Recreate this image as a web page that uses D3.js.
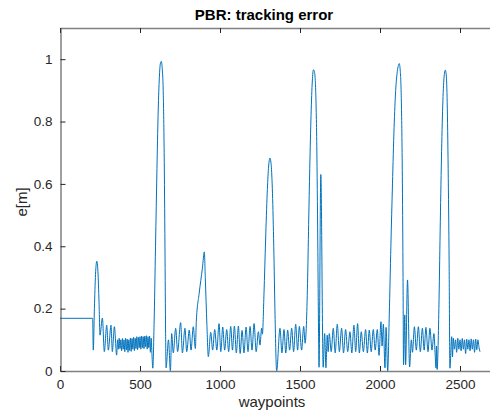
<!DOCTYPE html>
<html>
<head>
<meta charset="utf-8">
<script src="https://cdn.jsdelivr.net/npm/d3@7/dist/d3.min.js"></script>
<style>
  html, body { margin: 0; padding: 0; background: #fff; }
  svg { display: block; font-family: "Liberation Sans", Arial, Helvetica, sans-serif; }
</style>
</head>
<body>
<svg id="chart" width="490" height="419"></svg>
<script>
// ---- data ----
const titleText = "PBR: tracking error";
const xLabelText = "waypoints";
const yLabelText = "e[m]";
const xTicks = [0, 500, 1000, 1500, 2000, 2500];
const yTicks = [0, 0.2, 0.4, 0.6, 0.8, 1];
const xDomain = [0, 3000];
const yDomain = [0, 1.1];

// [waypoint, tracking error (m)]
const trackingError = [
  [0,0.169],[204,0.169],[208,0.067],[215,0.2],[222,0.31],[230,0.352],[237,0.32],[244,0.22],[250,0.115],
  [265,0.17],[277,0.062],[292,0.147],[302,0.067],[319,0.147],[327,0.062],[340,0.142],[354,0.051],
  [360,0.1],[365,0.07],[370,0.105],[375,0.072],[380,0.1],[385,0.065],[390,0.104],[395,0.07],[400,0.1],[405,0.062],
  [410,0.105],[415,0.068],[420,0.102],[425,0.06],[430,0.1],[435,0.066],[440,0.106],[445,0.063],[450,0.104],[455,0.07],
  [460,0.108],[465,0.065],[470,0.105],[475,0.072],[480,0.11],[485,0.068],[490,0.108],[495,0.075],[500,0.11],[505,0.07],
  [510,0.112],[515,0.075],[520,0.11],[525,0.072],[530,0.112],[535,0.078],[540,0.113],[545,0.07],[550,0.11],[555,0.075],
  [560,0.112],[565,0.06],[570,0.105],[575,0.05],
  [580,0.009],[588,0.15],[597,0.4],[606,0.65],[613,0.82],[620,0.93],[627,0.985],[633,0.993],[639,0.97],[645,0.9],
  [651,0.7],[656,0.4],[660,0.12],[663,0.01],[678,0.1],[690,0.0],
  [698,0.12],[708,0.058],[723,0.137],[735,0.062],[754,0.155],[765,0.058],[781,0.137],[792,0.062],[808,0.131],[819,0.067],
  [833,0.142],[846,0.072],
  [852,0.16],[870,0.25],[890,0.33],[902,0.382],[908,0.3],[918,0.15],[927,0.046],
  [942,0.124],[954,0.067],[967,0.133],[980,0.067],[994,0.152],[1005,0.062],[1017,0.141],[1029,0.067],[1042,0.133],[1054,0.062],
  [1067,0.143],[1078,0.067],[1090,0.144],[1102,0.058],[1115,0.144],[1126,0.056],[1138,0.13],[1150,0.058],[1163,0.141],[1175,0.062],
  [1188,0.143],[1200,0.067],[1213,0.152],[1226,0.062],[1240,0.126],[1250,0.083],[1260,0.137],[1265,0.118],
  [1275,0.25],[1285,0.42],[1295,0.57],[1303,0.65],[1312,0.683],[1320,0.66],[1328,0.57],[1336,0.4],[1344,0.18],[1354,0.0],
  [1375,0.137],[1387,0.058],[1400,0.133],[1411,0.058],[1423,0.131],[1435,0.067],[1448,0.137],[1460,0.062],[1473,0.15],[1485,0.067],
  [1496,0.143],[1510,0.067],[1523,0.143],[1532,0.089],
  [1540,0.15],[1547,0.28],[1554,0.47],[1561,0.65],[1569,0.82],[1577,0.93],[1584,0.966],[1590,0.96],[1593,0.95],[1598,0.9],
  [1605,0.72],[1611,0.42],[1616,0.12],[1619,0.012],
  [1630,0.63],[1645,0.012],[1654,0.12],[1662,0.01],[1670,0.115],[1676,0.062],
  [1683,0.12],[1695,0.062],[1708,0.137],[1720,0.058],[1733,0.15],[1746,0.062],[1760,0.137],[1772,0.058],[1785,0.133],[1798,0.062],
  [1812,0.126],[1824,0.058],[1837,0.147],[1848,0.062],[1860,0.152],[1871,0.058],[1883,0.126],[1896,0.062],[1910,0.133],[1921,0.058],
  [1933,0.131],[1945,0.062],[1958,0.133],[1970,0.067],[1983,0.133],[1994,0.05],[2006,0.158],[2013,0.08],[2021,0.15],[2031,0.01],
  [2038,0.14],[2048,0.0],
  [2058,0.18],[2068,0.4],[2078,0.6],[2088,0.78],[2098,0.9],[2108,0.96],[2115,0.98],[2120,0.986],[2127,0.96],[2134,0.85],
  [2140,0.6],[2144,0.3],[2147,0.02],
  [2155,0.18],[2160,0.02],[2172,0.292],[2185,0.013],[2196,0.1],[2203,0.06],
  [2215,0.142],[2227,0.067],[2240,0.142],[2252,0.062],[2265,0.137],[2276,0.067],[2287,0.14],[2300,0.062],[2312,0.137],[2325,0.067],
  [2337,0.12],[2345,0.05],[2350,0.01],[2353,0.08],[2357,0.005],
  [2368,0.2],[2376,0.45],[2384,0.68],[2392,0.85],[2400,0.94],[2408,0.965],[2414,0.95],[2420,0.86],[2426,0.65],[2432,0.35],[2437,0.009],
  [2448,0.11],[2453,0.045],[2458,0.105],[2465,0.07],[2472,0.1],[2479,0.06],[2486,0.105],[2493,0.07],[2500,0.1],[2507,0.065],
  [2514,0.104],[2521,0.07],[2528,0.1],[2535,0.056],[2542,0.102],[2549,0.07],[2556,0.1],[2563,0.065],[2570,0.103],[2577,0.07],
  [2584,0.1],[2591,0.06],[2598,0.102],[2605,0.068],[2612,0.1],[2619,0.075],[2625,0.062]
];

// ---- layout ----
const svg = d3.select("#chart");
const margin = { left: 60, top: 28, bottom: 371 };
const x = d3.scaleLinear().domain(xDomain).range([margin.left, margin.left + 480]);
const y = d3.scaleLinear().domain(yDomain).range([margin.bottom, margin.top]);

const axisColor = "#262626";

// line
const line = d3.line()
  .x(d => x(d[0]))
  .y(d => y(d[1]))
  .curve(d3.curveMonotoneX);

svg.append("path")
  .datum(trackingError)
  .attr("fill", "none")
  .attr("stroke", "#0072BD")
  .attr("stroke-width", 1)
  .attr("stroke-linejoin", "round")
  .attr("d", line);

// bottom axis
const gx = svg.append("g")
  .attr("transform", `translate(0,${margin.bottom})`)
  .call(d3.axisBottom(x).tickValues(xTicks).tickSizeInner(-5).tickSizeOuter(0).tickPadding(8).tickFormat(d3.format("d")));
// top axis (box)
const gxt = svg.append("g")
  .attr("transform", `translate(0,${margin.top})`)
  .call(d3.axisTop(x).tickValues(xTicks).tickSizeInner(-5).tickSizeOuter(0).tickFormat(""));
// left axis
const gy = svg.append("g")
  .attr("transform", `translate(${margin.left + 0.5},0)`)
  .call(d3.axisLeft(y).tickValues(yTicks).tickSizeInner(-5).tickSizeOuter(0).tickPadding(8).tickFormat(d3.format("~g")));

[gx, gxt, gy].forEach(g => {
  g.select(".domain").attr("stroke", axisColor).attr("stroke-width", 1);
  g.selectAll(".tick line").attr("stroke", axisColor).attr("stroke-width", 1);
  g.selectAll(".tick text").attr("fill", axisColor).attr("font-size", 13.5)
    .attr("font-family", "'Liberation Sans', Arial, Helvetica, sans-serif");
});
gx.select(".domain").attr("stroke", "#808080").attr("stroke-width", 1.6);
gxt.select(".domain").attr("stroke", "#808080").attr("stroke-width", 1.6);
gy.select(".domain").attr("stroke", "#404040").attr("stroke-width", 1);

// title
svg.append("text")
  .attr("x", 264).attr("y", 20)
  .attr("text-anchor", "middle")
  .attr("font-size", 15).attr("font-weight", "bold")
  .attr("fill", "#000")
  .text(titleText);

// x label
svg.append("text")
  .attr("x", 272).attr("y", 407)
  .attr("text-anchor", "middle")
  .attr("font-size", 15)
  .attr("fill", axisColor)
  .text(xLabelText);

// y label
svg.append("text")
  .attr("transform", `translate(27,202) rotate(-90)`)
  .attr("text-anchor", "middle")
  .attr("font-size", 15)
  .attr("fill", axisColor)
  .text(yLabelText);
</script>
</body>
</html>
